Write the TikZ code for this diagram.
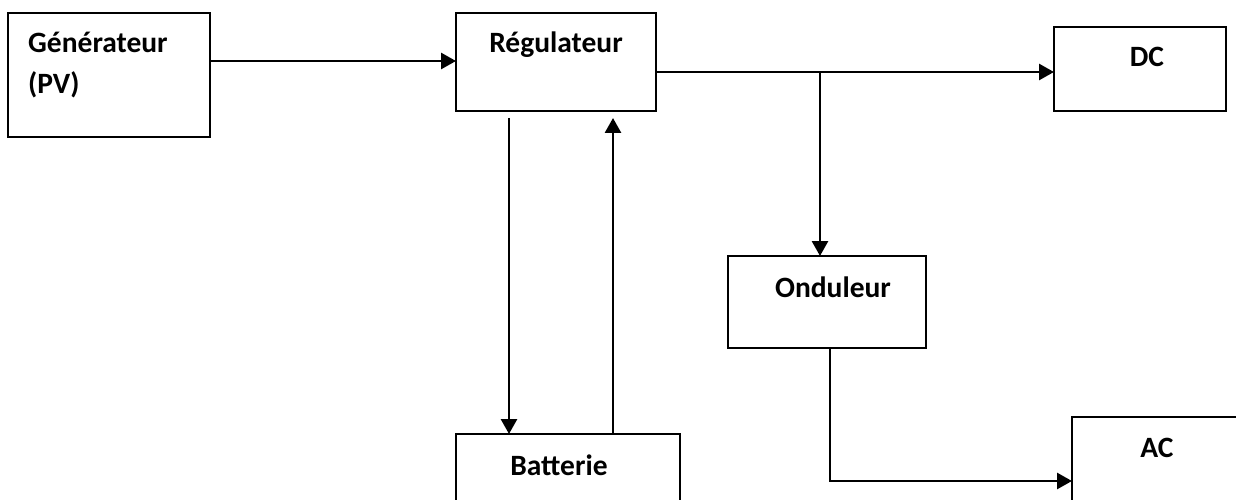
\documentclass[tikz,border=0pt]{standalone}
\usepackage{fontspec}
\setmainfont{Carlito}
\usetikzlibrary{arrows.meta, positioning, calc}

\begin{document}
\begin{tikzpicture}[x=1pt,y=-1pt,
    box/.style={draw, line width=2.8pt, inner sep=0pt, outer sep=0pt},
    lbl/.style={font=\fontsize{29.5}{34}\selectfont\bfseries, inner sep=0pt, anchor=base},
    conn/.style={line width=2.8pt, -{Triangle[length=15pt,width=16pt]}}]
    \useasboundingbox (0,0) rectangle (1236,500);
    % blocks
    \node[box, minimum width=202pt, minimum height=124pt] (gen) at (109,75) {};
    \node[box, minimum width=200pt, minimum height=98pt] (reg) at (556,62) {};
    \node[box, minimum width=172pt, minimum height=84pt] (dc) at (1140,69) {};
    \node[box, minimum width=198pt, minimum height=92pt] (ond) at (827,302) {};
    \node[box, minimum width=224pt, minimum height=110pt] (batt) at (568,489) {};
    \node[box, minimum width=200pt, minimum height=120pt] (ac) at (1172,477) {};
    % texts
    \node[lbl, anchor=base west] (gent) at (28,53) {Générateur};
    \node[lbl, anchor=base west] (pvt) at (28,94) {(PV)};
    \node[lbl] (regt) at (556,53) {Régulateur};
    \node[lbl] (dct) at (1147,67) {DC};
    \node[lbl] (ondt) at (833,297) {Onduleur};
    \node[lbl] (battt) at (559,475) {Batterie};
    \node[lbl] (act) at (1157,457) {AC};
    % connectors
    \coordinate (split) at (820,72);
    \coordinate (rdown) at (509,118);
    \coordinate (rup) at (613,118);
    \draw[conn] ([yshift=14pt]gen.east) -- ([yshift=14pt]gen.east -| reg.west);
    \draw[conn] (reg.east |- split) -- (dc.west |- split);
    \draw[conn] (split) -- (split |- ond.north);
    \draw[conn] (rdown) -- (rdown |- batt.north);
    \draw[conn] (rup |- batt.north) -- (rup);
    \draw[conn] ([xshift=3pt]ond.south) |- ([yshift=-4pt]ac.west);
\end{tikzpicture}
\end{document}
